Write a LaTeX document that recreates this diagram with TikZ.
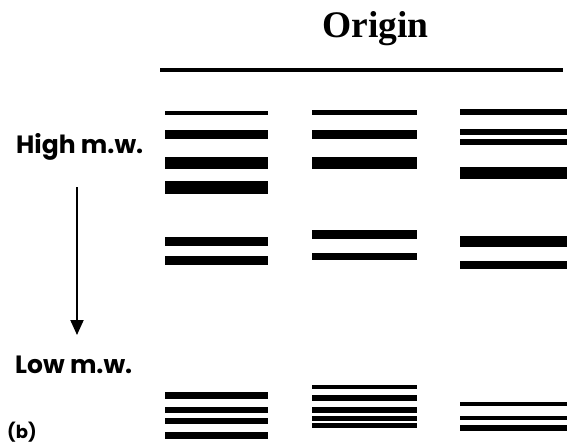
\documentclass[tikz,border=0pt]{standalone}
\usepackage{fontspec}
\setmainfont{Liberation Serif}
\newfontfamily\labelfont{Poppins}
\usetikzlibrary{arrows.meta}
\begin{document}
\begin{tikzpicture}[x=1pt,y=-1pt,
  band/.style={fill=black},
  sidelabel/.style={anchor=base west,inner sep=0pt,font=\labelfont\bfseries\fontsize{25}{25}\selectfont},
  title/.style={anchor=base,inner sep=0pt,font=\bfseries\fontsize{37.5}{37.5}\selectfont}]
\useasboundingbox (0,0) rectangle (569,444);

% title and origin line
\node[title] (origin) at (375.5,37.5) {Origin};
\draw[line width=3.5pt] (160,70) -- (563,70);

% lane band macro: \bandat{x1}{x2}{centre y}{thickness}
\newcommand\bandat[4]{\fill[band] (#1,#3-#4/2) rectangle (#2,#3+#4/2);}

% lane 1
\bandat{165}{268}{113}{4.5}
\bandat{165}{268}{134}{9}
\bandat{165}{268}{163}{12}
\bandat{165}{268}{187.5}{13}
\bandat{165}{268}{241}{9}
\bandat{165}{268}{260}{9}
\bandat{165}{268}{395.7}{7}
\bandat{165}{268}{410}{6.5}
\bandat{165}{268}{421.3}{6}
\bandat{165}{268}{435.5}{7.5}

% lane 2
\bandat{312}{417}{112.7}{5}
\bandat{312}{417}{134}{9}
\bandat{312}{417}{163}{12}
\bandat{312}{417}{234}{9}
\bandat{312}{417}{256}{7}
\bandat{312}{417}{387}{4.7}
\bandat{312}{417}{397.7}{6}
\bandat{312}{417}{410}{5.3}
\bandat{312}{417}{418.3}{4.7}
\bandat{312}{417}{425.5}{4.3}

% lane 3
\bandat{460}{567}{112.3}{6}
\bandat{460}{567}{132}{6}
\bandat{460}{567}{142}{6}
\bandat{460}{567}{173}{12.5}
\bandat{460}{567}{241.5}{11.5}
\bandat{460}{567}{265}{8.5}
\bandat{460}{567}{404}{4.3}
\bandat{460}{567}{418}{4.3}
\bandat{460}{567}{428}{6}

% molecular weight axis
\node[sidelabel] (high) at (16,153.5) {High m.w.};
\node[sidelabel] (low) at (15,373.5) {Low m.w.};
\coordinate (atop) at (77,187);
\coordinate (abot) at (77,335);
\draw[line width=2pt,-{Triangle[length=15pt,width=13pt]}] (atop) -- (abot);
\node[anchor=base west,inner sep=0pt,font=\labelfont\bfseries\fontsize{18}{18}\selectfont] (tag) at (7,438.5) {(b)};
\end{tikzpicture}
\end{document}
